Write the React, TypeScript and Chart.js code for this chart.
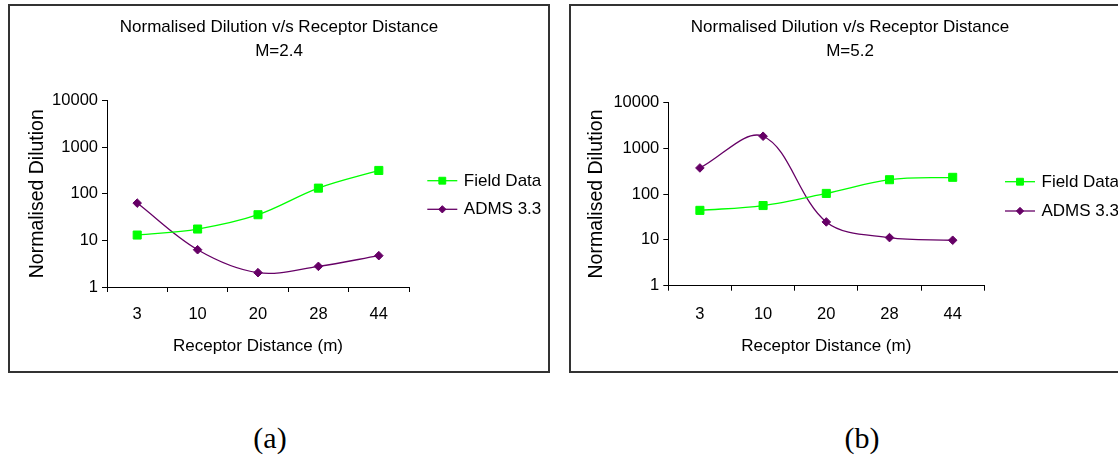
import React, { useEffect, useRef } from "react";
import { Chart, registerables } from "chart.js";
import { drawPoint } from "chart.js/helpers";

Chart.register(...registerables);

// ---------- data ----------
const distances = ["3", "10", "20", "28", "44"];
const yTickValues = [1, 10, 100, 1000, 10000];
const seriesNames = ["Field Data", "ADMS 3.3"];
const chartTitle = "Normalised Dilution v/s Receptor Distance";
const xAxisTitle = "Receptor Distance (m)";
const yAxisTitle = "Normalised Dilution";

const subtitleA = "M=2.4";
const fieldDataA = [13, 17.5, 35.5, 132, 316];
const admsA = [63, 6.3, 2.03, 2.77, 4.7];

const subtitleB = "M=5.2";
const fieldDataB = [44, 56, 103, 205, 231];
const admsB = [370, 1820, 24.6, 11.2, 9.8];

const panelLabels = ["(a)", "(b)"];

// ---------- styles ----------
const GREEN = "#00ff00";
const PURPLE = "#660066";
const SANS = "'Liberation Sans', Arial, sans-serif";
const SERIF = "'Liberation Serif', 'Times New Roman', serif";

type Layout = {
  box: { left: number; top: number; width: number; height: number };
  plotLeft: number;
  plotRight: number;
  plotTop: number;
  plotBottom: number;
  titlePadTop: number;
  yTitlePad: number;
  xTickPad: number;
  xTitlePadBottom: number;
  legendLineStart: number;
  legendRow1: number;
  legendRowGap: number;
};

const BORDER = 2;

const layoutA: Layout = {
  box: { left: 8, top: 4, width: 542, height: 369 },
  plotLeft: 97,
  plotRight: 399,
  plotTop: 94.5,
  plotBottom: 281,
  titlePadTop: 9.75,
  yTitlePad: 15.8,
  xTickPad: 12.6,
  xTitlePadBottom: 14.1,
  legendLineStart: 18.3,
  legendRow1: 80.2,
  legendRowGap: 28.6,
};

const layoutB: Layout = {
  box: { left: 569, top: 4, width: 562, height: 369 },
  plotLeft: 97.3,
  plotRight: 413.3,
  plotTop: 96.3,
  plotBottom: 279.7,
  titlePadTop: 9.75,
  yTitlePad: 13.8,
  xTickPad: 13.9,
  xTitlePadBottom: 14.1,
  legendLineStart: 20.7,
  legendRow1: 79.4,
  legendRowGap: 29.3,
};

const TITLE_FONT = 17;
const TITLE_LH = 1.38;
const Y_TITLE_FONT = 19.5;

const sideLegendPlugin = {
  id: "sideLegend",
  afterDraw(chart: any, _args: any, opts: any) {
    const { ctx, chartArea } = chart;
    ctx.save();
    chart.data.datasets.forEach((ds: any, i: number) => {
      const y = chartArea.top + opts.row1 + i * opts.rowGap;
      const x0 = chartArea.right + opts.lineStart;
      const x1 = x0 + 30;
      ctx.strokeStyle = ds.borderColor;
      ctx.lineWidth = ds.borderWidth;
      ctx.beginPath();
      ctx.moveTo(x0, y);
      ctx.lineTo(x1, y);
      ctx.stroke();
      ctx.fillStyle = ds.pointBackgroundColor;
      ctx.strokeStyle = ds.pointBorderColor;
      ctx.lineWidth = ds.pointBorderWidth;
      drawPoint(
        ctx,
        {
          radius: ds.pointRadius * 0.85,
          pointStyle: ds.pointStyle,
          rotation: 0,
          borderWidth: ds.pointBorderWidth,
        } as any,
        (x0 + x1) / 2,
        y
      );
      ctx.fillStyle = "#000";
      ctx.font = `normal ${opts.fontSize}px ${SANS}`;
      ctx.textAlign = "left";
      ctx.textBaseline = "middle";
      ctx.fillText(ds.label, x1 + 6.5, y + 0.5);
    });
    ctx.restore();
  },
};

function Panel({
  subtitle,
  field,
  adms,
  layout,
}: {
  subtitle: string;
  field: number[];
  adms: number[];
  layout: Layout;
}) {
  const ref = useRef<HTMLCanvasElement | null>(null);
  const cw = layout.box.width - 2 * BORDER;
  const ch = layout.box.height - 2 * BORDER;

  useEffect(() => {
    if (!ref.current) return;
    const titleLineH = TITLE_FONT * TITLE_LH;
    const titlePadBottom = layout.plotTop - layout.titlePadTop - 2 * titleLineH;
    const chart = new Chart(ref.current, {
      type: "line",
      data: {
        labels: distances,
        datasets: [
          {
            label: seriesNames[0],
            data: field,
            borderColor: GREEN,
            backgroundColor: GREEN,
            borderWidth: 1.3,
            pointStyle: "rect",
            pointRadius: 5.7,
            pointBorderWidth: 1,
            pointBackgroundColor: GREEN,
            pointBorderColor: GREEN,
            tension: 0.35,
            fill: false,
          },
          {
            label: seriesNames[1],
            data: adms,
            borderColor: PURPLE,
            backgroundColor: PURPLE,
            borderWidth: 1.3,
            pointStyle: "rectRot",
            pointRadius: 4.3,
            pointBorderWidth: 1,
            pointBackgroundColor: PURPLE,
            pointBorderColor: PURPLE,
            tension: 0.35,
            fill: false,
          },
        ],
      },
      options: {
        responsive: false,
        animation: false,
        devicePixelRatio: 1,
        layout: { padding: 0 },
        events: [],
        plugins: {
          legend: { display: false },
          tooltip: { enabled: false },
          title: {
            display: true,
            text: [chartTitle, subtitle],
            color: "#000",
            font: { family: SANS, size: TITLE_FONT, weight: "normal", lineHeight: TITLE_LH },
            padding: { top: layout.titlePadTop, bottom: titlePadBottom },
          },
          sideLegend: {
            lineStart: layout.legendLineStart,
            row1: layout.legendRow1,
            rowGap: layout.legendRowGap,
            fontSize: 17,
          },
        } as any,
        scales: {
          x: {
            type: "category",
            offset: true,
            grid: {
              offset: true,
              drawOnChartArea: false,
              drawTicks: true,
              tickLength: 5,
              color: "#000",
            },
            border: { display: true, color: "#000", width: 1 },
            ticks: {
              color: "#000",
              font: { family: SANS, size: 16.5 },
              padding: layout.xTickPad,
              maxRotation: 0,
              autoSkip: false,
            },
            title: {
              display: true,
              text: xAxisTitle,
              color: "#000",
              font: { family: SANS, size: 17, lineHeight: 1.2 },
              padding: { top: 0, bottom: layout.xTitlePadBottom },
            },
            afterFit: (s: any) => {
              s.height = ch - layout.plotBottom;
            },
          },
          y: {
            type: "logarithmic",
            min: yTickValues[0],
            max: yTickValues[yTickValues.length - 1],
            grid: {
              drawOnChartArea: false,
              drawTicks: true,
              tickLength: 5,
              color: "#000",
            },
            border: { display: true, color: "#000", width: 1 },
            afterBuildTicks: (s: any) => {
              s.ticks = yTickValues.map((v) => ({ value: v }));
            },
            ticks: {
              color: "#000",
              font: { family: SANS, size: 16.5 },
              padding: 4,
              callback: (v: any) => String(v),
            },
            title: {
              display: true,
              text: yAxisTitle,
              color: "#000",
              font: { family: SANS, size: Y_TITLE_FONT, lineHeight: 1.2 },
              padding: { top: layout.yTitlePad, bottom: 0 },
            },
            afterFit: (s: any) => {
              s.width = layout.plotLeft;
            },
          },
          legendSpace: {
            type: "linear",
            position: "right",
            display: true,
            grid: { display: false, drawTicks: false },
            border: { display: false },
            ticks: { display: false },
            afterFit: (s: any) => {
              s.width = cw - layout.plotRight;
            },
          },
        } as any,
      },
      plugins: [sideLegendPlugin as any],
    });
    return () => chart.destroy();
  }, []);

  return (
    <div
      style={{
        position: "absolute",
        left: layout.box.left,
        top: layout.box.top,
        width: layout.box.width,
        height: layout.box.height,
        boxSizing: "border-box",
        border: `${BORDER}px solid #333`,
        background: "#fff",
      }}
    >
      <canvas ref={ref} width={cw} height={ch} style={{ display: "block", width: cw, height: ch }} />
    </div>
  );
}

export default function App() {
  return (
    <div
      style={{
        position: "fixed",
        left: 0,
        top: 0,
        width: 1118,
        height: 456,
        overflow: "hidden",
        background: "#fff",
      }}
    >
      <Panel subtitle={subtitleA} field={fieldDataA} adms={admsA} layout={layoutA} />
      <Panel subtitle={subtitleB} field={fieldDataB} adms={admsB} layout={layoutB} />
      {panelLabels.map((t, i) => (
        <div
          key={t}
          style={{
            position: "absolute",
            left: (i === 0 ? 270 : 862) - 60,
            top: 420,
            width: 120,
            height: 36,
            lineHeight: "36px",
            textAlign: "center",
            fontFamily: SERIF,
            fontSize: 30,
            color: "#000",
          }}
        >
          {t}
        </div>
      ))}
    </div>
  );
}
